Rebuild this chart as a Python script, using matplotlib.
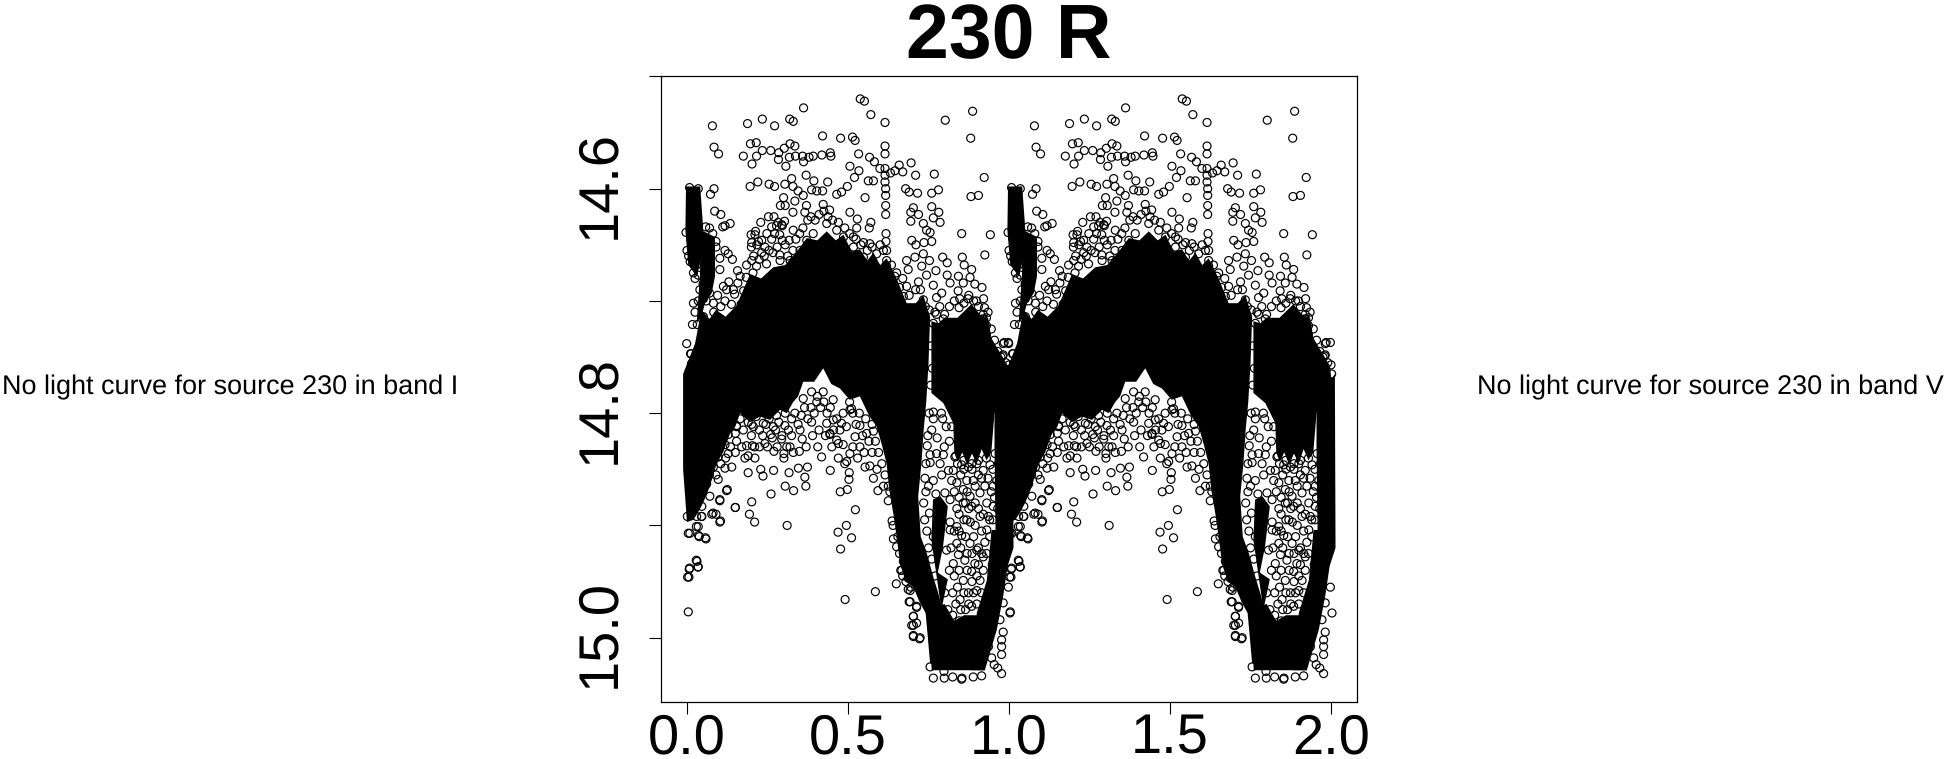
import matplotlib
matplotlib.use("Agg")
import matplotlib.pyplot as plt
from matplotlib.transforms import ScaledTranslation

plt.rcParams['font.family'] = ['Liberation Sans', 'DejaVu Sans']
plt.rcParams['text.hinting'] = 'no_hinting'
plt.rcParams['text.hinting_factor'] = 1

title_text = "230 R"
note_i = "No light curve for source 230 in band I"
note_v = "No light curve for source 230 in band V"
x_ticks = [0.0, 0.5, 1.0, 1.5, 2.0]
x_tick_labels = ["0.0", "0.5", "1.0", "1.5", "2.0"]
y_ticks = [14.5, 14.6, 14.7, 14.8, 14.9, 15.0]
y_tick_labels = ["", "14.6", "", "14.8", "", "15.0"]
fold_offsets = [0, 1]

# individually readable observations (phase, magnitude), upper half
upper_points = [
(.079,14.544),(.084,14.563),(.098,14.569),(.188,14.542),(.234,14.538),(.272,14.544),(.319,14.538),(.330,14.540),
(.362,14.528),(.538,14.520),(.551,14.522),(.571,14.534),(.615,14.541),(.802,14.539),(.887,14.531),(.881,14.555),
(.421,14.553),(.477,14.555),(.514,14.554),(.522,14.557),(.615,14.562),(.615,14.569),(.533,14.569),(.175,14.571),
(.197,14.560),(.215,14.559),(.216,14.571),(.234,14.566),(.260,14.566),(.285,14.568),(.284,14.574),(.302,14.564),
(.320,14.560),(.335,14.562),(.318,14.572),(.337,14.571),(.359,14.571),(.362,14.576),(.379,14.572),(.392,14.571),
(.419,14.570),(.445,14.568),(.447,14.571),(.202,14.578),(.307,14.580),(.506,14.580),(.534,14.584),(.567,14.572),
(.582,14.576),(.599,14.582),(.615,14.582),(.632,14.586),(.646,14.584),(.659,14.579),(.670,14.585),(.696,14.577),
(.710,14.588),(.768,14.587),(.520,14.590),(.196,14.598),(.220,14.594),(.255,14.596),(.272,14.598),(.304,14.596),
(.325,14.591),(.329,14.598),(.370,14.588),(.394,14.593),(.437,14.594),(.345,14.602),(.387,14.601),(.403,14.602),
(.421,14.602),(.465,14.605),(.480,14.603),(.498,14.598),(.563,14.593),(.579,14.593),(.615,14.588),(.615,14.594),
(.617,14.600),(.617,14.606),(.617,14.615),(.617,14.623),(.553,14.608),(.679,14.600),(.690,14.603),(.716,14.604),
(.760,14.604),(.781,14.601),(.084,14.600),(.073,14.605),(.008,14.599),(.035,14.600),(.086,14.620),(.105,14.623),
(.134,14.631),(.111,14.634),(.118,14.633),(.058,14.634),(-.003,14.639),(.300,14.608),(.290,14.615),(.305,14.615),
(.335,14.611),(.361,14.606),(.329,14.621),(.366,14.621),(.371,14.615),(.423,14.614),(.443,14.619),(.506,14.621),
(.529,14.627),(.703,14.617),(.695,14.621),(.719,14.623),(.760,14.616),(.782,14.621),(.695,14.629),(.571,14.630),
(.566,14.635),(.853,14.640),(.882,14.607),(.905,14.606),(.229,14.630),(.253,14.625),(.270,14.625),(.303,14.629),
(.283,14.630),(.330,14.637),(.296,14.646),(.317,14.646),(.199,14.641),(.213,14.638),(.201,14.648),(.548,14.648),
(.568,14.649),(.517,14.643),(.527,14.635),(.698,14.646),(.711,14.650),(.736,14.648),(.760,14.647),(.755,14.639),
(.734,14.631),(.744,14.637),(.786,14.630),(.765,14.626),(.794,14.661),(.808,14.666),(.773,14.673),(.808,14.677),
(.817,14.684),(.855,14.661),(.861,14.668),(.884,14.672),(.843,14.678),(.879,14.679),(.858,14.684),(.894,14.685),
(.682,14.664),(.708,14.661),(.734,14.658),(.753,14.664),(.729,14.669),(.687,14.672),(.744,14.677),(.719,14.683),
(.765,14.686),(.791,14.693),(.775,14.697),(.770,14.710),(.796,14.716),(.682,14.687),(.618,14.640),(.618,14.647),
(.620,14.655),(.620,14.664),(.020,14.702),(.017,14.721),(.032,14.721),(-.001,14.738),(.011,14.747),(.014,14.756),
(.118,14.655),(.128,14.658),(.141,14.663),(.102,14.662),(.102,14.672),(.025,14.680),(.035,14.677),(.090,14.647),
(.157,14.673),(.051,14.698),(.113,14.687),(.144,14.690),(.185,14.668),(.201,14.664),(.211,14.641),(.222,14.647),
(.242,14.652),(.263,14.634),(.278,14.633),(.294,14.632),(.232,14.657),(.267,14.657),(.288,14.659),(.923,14.590),
(.942,14.641),(.925,14.659),(.985,14.737),(.980,14.749),(.916,14.688),(.921,14.698),(.842,14.691),(.847,14.698),
(.873,14.698),(.899,14.700),(.924,14.706),(.919,14.716),(.930,14.715),(.904,14.723),(.929,14.730),(.945,14.745),
(.976,14.759),(1.002,14.765),(.995,14.772),
(.165,14.678),(.123,14.690),(.082,14.702),(.051,14.714),(.216,14.669),(.247,14.667),(.289,14.664),(.320,14.664),
(.351,14.655),(.372,14.646),(.392,14.640),(.434,14.631),(.465,14.637),(.486,14.643),(.517,14.652),(.548,14.661),
(.589,14.658),(.620,14.669),(.651,14.675),(.672,14.696),(.693,14.707),(.734,14.699),(.765,14.720),
(.982,14.738),(.998,14.737),(.982,14.748),(.013,14.747),(.946,14.745),(.982,14.759),(.019,14.756),
]

# rings crowding the top edge of the dense mass
upper_edge_points = [
(.060,14.700),(.070,14.693),(.083,14.710),(.095,14.695),(.105,14.705),(.118,14.700),(.130,14.683),(.138,14.703),
(.148,14.694),(.158,14.684),(.168,14.703),(.176,14.691),(.184,14.679),(.192,14.698),(.205,14.675),(.200,14.652),
(.207,14.660),(.217,14.650),(.224,14.663),(.232,14.646),(.240,14.660),(.248,14.640),(.255,14.655),(.263,14.645),
(.272,14.640),(.280,14.652),(.288,14.641),(.296,14.633),(.305,14.650),(.313,14.660),(.329,14.655),(.338,14.645),
(.350,14.640),(.360,14.635),(.375,14.628),(.385,14.625),(.398,14.628),(.410,14.623),(.425,14.620),(.438,14.625),
(.452,14.628),(.470,14.630),(.490,14.635),(.505,14.640),(.525,14.645),(.540,14.650),(.560,14.655),(.575,14.652),
(.600,14.650),(.610,14.655),(.635,14.668),(.645,14.678),(.660,14.688),(.670,14.680),(.690,14.695),(.710,14.690),
(.725,14.690),(.740,14.705),(.752,14.708),(.775,14.712),(.785,14.705),(.800,14.712),(.815,14.705),(.830,14.700),
(.845,14.706),(.860,14.702),(.875,14.695),(.890,14.700),(.905,14.705),(.920,14.712),(.935,14.710),(.930,14.722),
(.945,14.725),(.955,14.735),(.965,14.745),(.975,14.750),(.990,14.755),(1.000,14.757),
(.010,14.665),(.020,14.675),(.012,14.645),(.000,14.655),(.005,14.660),(.030,14.668),(.045,14.660),(.050,14.650),
(.070,14.635),(.080,14.640),(.090,14.652),(.040,14.690),(.050,14.685),(.035,14.700),(.025,14.710),(.060,14.725),
(.010,14.775),
]

# individually readable observations (phase, magnitude), lower half
lower_points = [
(.004,14.977),(.002,14.946),(.007,14.939),(.031,14.932),(.035,14.937),(.059,14.912),(.038,14.910),(.004,14.907),
(.035,14.901),(.102,14.897),(.077,14.890),(.090,14.890),(.046,14.892),(.210,14.897),(.194,14.890),(.201,14.879),
(.150,14.884),(.102,14.878),(.123,14.869),(.097,14.859),(.311,14.900),(.261,14.872),(.305,14.865),(.331,14.869),
(.369,14.865),(.236,14.856),(.190,14.853),(.317,14.853),(.269,14.851),(.346,14.849),(.374,14.848),(.366,14.857),
(.445,14.851),(.476,14.870),(.498,14.868),(.503,14.859),(.504,14.853),(.523,14.886),(.495,14.900),(.469,14.906),
(.511,14.911),(.477,14.921),(.491,14.966),(.585,14.959),(.650,14.952),(.664,14.940),(.637,14.896),(.641,14.912),
(.625,14.878),(.593,14.869),(.579,14.858),(.553,14.848),(.568,14.847),(.496,14.843),(.506,14.836),(.211,14.840),
(.190,14.838),(.229,14.850),(.139,14.848),(.118,14.849),(.185,14.829),(.203,14.829),(.242,14.827),(.270,14.834),
(.301,14.836),(.301,14.840),(.349,14.834),(.320,14.830),(.294,14.823),(.358,14.823),(.260,14.819),(.406,14.830),
(.418,14.839),(.201,14.810),(.154,14.811),(.154,14.825),(.128,14.836),(.444,14.818),(.470,14.827),
(.703,14.981),(.698,14.989),(.703,14.999),(.724,15.000),(.713,14.973),(.690,14.968),(.687,14.957),(.693,14.945),
(.672,14.932),(.651,14.919),
(.765,15.036),(.798,15.030),(.825,15.035),(.853,15.037),(.889,15.035),(.755,15.026),(.801,15.023),(.798,15.003),
(.799,15.036),(.854,15.036),(.915,15.034),(.977,15.032),(.965,15.027),(.954,15.024),(.946,15.018),(.977,15.015),
(.977,15.008),(.977,15.002),(.936,15.008),(.982,14.995),(1.003,14.978),(.998,14.955),(.034,14.937),(.029,14.931),
(.008,14.938),(.006,14.946),(.057,14.911),(.036,14.909),(.029,14.901),(.045,14.892),(.081,14.889),(.104,14.896),
(.102,14.877),(.125,14.868),(.150,14.884),
(.185,14.799),(.206,14.812),(.237,14.809),(.268,14.812),(.304,14.811),(.351,14.815),(.387,14.808),(.434,14.809),
(.454,14.806),(.480,14.809),(.511,14.796),(.537,14.811),(.558,14.818),(.444,14.819),(.465,14.824),(.485,14.828),
(.522,14.821),(.537,14.830),(.579,14.816),(.361,14.787),(.387,14.781),(.423,14.781),(.403,14.790),(.454,14.788),
(.506,14.797),(.278,14.802),(.247,14.799),(.325,14.805),(.154,14.812),(.128,14.819),(.118,14.828),(.097,14.839),
(.082,14.848),(.061,14.863),(.071,14.874),(.046,14.883),(.030,14.892),(.009,14.907),(.001,14.892),
(.693,14.958),(.693,14.968),(.713,14.972),(.703,14.981),(.703,14.989),(.713,14.987),(.703,14.998),(.722,15.001),
(.667,14.940),(.687,14.947),(.982,14.969),(.972,14.984),
]

# rings crowding the bottom edge of the dense mass
lower_edge_points = [
(.100,14.825),(.110,14.815),(.125,14.808),(.140,14.800),(.150,14.818),(.165,14.805),(.175,14.815),(.190,14.808),
(.200,14.820),(.215,14.803),(.225,14.815),(.235,14.820),(.245,14.810),(.255,14.805),(.265,14.822),(.275,14.815),
(.285,14.808),(.295,14.820),(.305,14.800),(.315,14.815),(.325,14.820),(.335,14.800),(.345,14.810),(.355,14.802),
(.365,14.795),(.375,14.805),(.385,14.795),(.395,14.800),(.405,14.785),(.415,14.795),(.425,14.790),(.435,14.800),
(.445,14.795),(.455,14.815),(.465,14.805),(.475,14.815),(.485,14.800),(.495,14.812),(.505,14.790),(.515,14.800),
(.525,14.810),(.535,14.800),(.545,14.820),(.555,14.805),(.565,14.825),(.575,14.810),(.585,14.825),(.595,14.835),
(.605,14.845),(.615,14.855),(.625,14.865),(.630,14.870),(.640,14.900),(.655,14.910),(.660,14.925),(.670,14.945),
(.680,14.950),(.695,14.955),(.070,14.855),(.080,14.842),(.090,14.855),(.105,14.845),(.120,14.840),(.135,14.830),
(.150,14.835),(.170,14.830),(.180,14.840),(.210,14.830),(.225,14.830),(.250,14.830),(.280,14.830),(.310,14.830),
(.330,14.835),(.370,14.830),(.390,14.820),(.410,14.815),(.430,14.820),(.450,14.830),(.470,14.840),(.490,14.845),
(.515,14.830),(.530,14.840),(.550,14.835),(.575,14.835),(.590,14.850),(.610,14.865),
(.735,14.880),(.742,14.870),(.738,14.895),(.745,14.905),(.750,14.920),(.760,14.930),(.770,14.945),(.742,14.845),
(.748,14.820),(.752,14.800),(.757,14.775),(.762,14.760),(.758,14.740),
(.950,14.850),(.962,14.860),(.950,14.895),(.958,14.910),(.965,14.885),(.948,14.935),(.950,14.960),(.935,14.975),
(.925,14.990),(.918,15.010),(.905,14.990),(.890,14.995),(.870,14.990),(.845,14.985),(.825,14.980),(.810,14.975),
(.885,14.845),(.860,14.842),(.905,14.842),(.835,14.838),(.930,14.840),(.815,14.825),(.805,14.812),(.790,14.800),
]

# observations in the gaps between the arms of the minimum
gap_points = [
(.765,14.799),(.765,14.805),(.794,14.805),(.822,14.812),(.760,14.815),(.777,14.822),(.746,14.829),(.799,14.830),
(.755,14.837),(.775,14.836),(.796,14.837),(.755,14.844),(.786,14.845),(.739,14.858),(.765,14.860),(.791,14.855),
(.750,14.865),(.773,14.872),(.801,14.871),(.817,14.877),(.838,14.885),(.753,14.889),(.817,14.897),(.832,14.839),
(.827,14.851),(.838,14.862),(.858,14.868),(.879,14.874),(.910,14.871),(.941,14.846),(.920,14.851),(.900,14.845),
(.858,14.880),(.884,14.883),(.931,14.880),(.951,14.883),(.853,14.846),(.874,14.848),(.838,14.901),(.817,14.904),
(.853,14.909),(.879,14.916),(.900,14.922),(.843,14.926),(.884,14.941),(.894,14.934),(.910,14.949),(.874,14.960),
(.910,14.892),(.869,14.895),(.931,14.904),(.838,14.916),(.863,14.931),(.920,14.928),(.900,14.958),(.858,14.949),
(.884,14.972),(.848,14.966),(.827,14.934),(.765,14.910),(.806,14.922),(.889,14.860),(.915,14.858),(.869,14.860),
(.957,14.836),(.967,14.845),(.951,14.865),(.936,14.892),(.822,14.860),(.812,14.851),
(.840,14.845),(.850,14.855),(.860,14.850),(.870,14.870),(.885,14.850),(.895,14.865),(.905,14.855),(.925,14.865),
(.935,14.858),(.945,14.870),(.955,14.875),(.830,14.870),(.845,14.875),(.865,14.880),(.875,14.885),(.895,14.880),
(.905,14.885),(.920,14.890),(.940,14.895),(.845,14.890),(.860,14.895),(.880,14.897),(.895,14.900),(.915,14.905),
(.925,14.915),(.940,14.910),(.830,14.905),(.845,14.905),(.865,14.910),(.890,14.910),(.905,14.920),(.915,14.925),
(.930,14.925),(.820,14.920),(.850,14.920),(.870,14.925),(.885,14.925),(.905,14.935),(.920,14.940),(.830,14.945),
(.845,14.940),(.870,14.940),(.885,14.950),(.900,14.945),(.815,14.940),(.825,14.960),(.840,14.955),(.860,14.960),
(.875,14.970),(.890,14.960),(.915,14.960),(.800,14.960),(.835,14.970),(.850,14.975),(.865,14.975),(.900,14.970),
]

# outlines of the fully overplotted regions, where single points cannot be told apart
mass_outline = [
(-.012,14.765),(.025,14.738),(.045,14.708),(.070,14.716),(.090,14.708),(.120,14.714),(.154,14.704),(.175,14.690),
(.196,14.676),(.230,14.680),(.268,14.670),(.305,14.668),(.341,14.656),(.372,14.644),(.405,14.646),(.434,14.638),
(.462,14.646),(.486,14.641),(.512,14.656),(.537,14.654),(.560,14.664),(.579,14.657),(.600,14.668),(.620,14.662),
(.651,14.680),(.682,14.702),(.710,14.702),(.734,14.695),(.755,14.714),(.750,14.756),(.743,14.790),(.735,14.815),
(.728,14.845),(.718,14.874),(.726,14.910),(.745,14.925),(.765,14.946),(.782,14.962),(.796,14.978),(.791,15.023),
(.755,15.023),(.748,15.000),(.741,14.978),(.722,14.968),(.703,14.955),(.680,14.950),(.662,14.935),(.652,14.912),
(.641,14.890),(.628,14.868),(.620,14.845),(.605,14.828),(.589,14.812),(.565,14.802),(.537,14.785),(.505,14.788),
(.475,14.778),(.448,14.774),(.423,14.760),(.395,14.772),(.361,14.772),(.345,14.785),(.330,14.790),(.310,14.800),
(.289,14.797),(.258,14.806),(.227,14.803),(.195,14.808),(.165,14.800),(.150,14.812),(.134,14.818),(.112,14.835),
(.092,14.845),(.070,14.866),(.050,14.880),(.035,14.888),(.020,14.895),(.000,14.897),(-.012,14.850),
]
spike_outline = [(-.003,14.598),(.041,14.598),(.050,14.634),(.047,14.660),(.030,14.678),(.004,14.668),(-.005,14.637)]
shoulder_outline = [(.045,14.637),(.087,14.643),(.087,14.678),(.077,14.693),(.056,14.702),(.045,14.714),(.030,14.720),(.040,14.678)]
dome_outline = [
(.759,14.718),(.780,14.720),(.800,14.715),(.840,14.715),(.883,14.703),(.910,14.712),(.935,14.715),(.945,14.733),
(.970,14.745),(.997,14.758),(1.007,14.788),(.955,14.800),(.945,14.835),(.930,14.842),(.915,14.832),(.900,14.845),
(.885,14.836),(.870,14.846),(.855,14.835),(.840,14.843),(.830,14.835),(.827,14.809),(.796,14.791),(.759,14.782),
]
column_outline = [(.955,14.790),(1.012,14.765),(1.014,14.920),(.997,14.935),(.975,14.945),(.960,14.940),(.957,14.880),(.955,14.830)]
right_arm_outline = [
(.946,14.904),(.972,14.904),(1.003,14.922),(.982,14.963),(.962,14.993),(.925,15.029),(.884,15.029),(.900,14.978),(.931,14.949),
]
base_outline = [(.750,14.980),(.775,14.972),(.800,14.970),(.830,14.985),(.860,14.980),(.900,14.980),(.925,15.029),(.760,15.029)]
inner_arm_outline = [(.764,14.877),(.787,14.874),(.810,14.883),(.795,14.919),(.779,14.942),(.810,14.948),(.790,14.975),(.759,14.913)]
solid_regions = [mass_outline, spike_outline, shoulder_outline, dome_outline,
                 column_outline, right_arm_outline, base_outline, inner_arm_outline]

W, H = 1952, 759
fig = plt.figure(figsize=(W / 100, H / 100), dpi=100)
ax = fig.add_axes([661 / W, 1 - 702 / H, 696 / W, 626 / H])

for offset in fold_offsets:
    for outline in solid_regions:
        ax.fill([p + offset for p, m in outline], [m for p, m in outline],
                color='black', lw=0, zorder=1)
    for group in (upper_points, upper_edge_points, lower_points, lower_edge_points, gap_points):
        ax.scatter([p + offset for p, m in group], [m for p, m in group],
                   s=33, facecolors='none', edgecolors='black', linewidths=0.85, zorder=2)

ax.set_xlim(-0.0807, 2.0807)
ax.set_ylim(15.0573, 14.4996)
ax.set_xticks(x_ticks)
ax.set_xticklabels(x_tick_labels, fontsize=40, va='baseline')
ax.set_yticks(y_ticks)
ax.set_yticklabels(y_tick_labels, fontsize=40, rotation=90, va='center')
ax.tick_params(axis='x', length=8.6, width=0.8, pad=28.5)
ax.tick_params(axis='y', length=8.6, width=0.8, pad=17)
for label in ax.get_yticklabels():
    label.set_transform(label.get_transform() + ScaledTranslation(0, 4 / 100, fig.dpi_scale_trans))
for spine in ax.spines.values():
    spine.set_linewidth(0.9)

fig.text(1009 / W, 1 - 58 / H, title_text, fontsize=55.5, fontweight='bold',
         ha='center', va='baseline')
fig.text(1.5 / W, 1 - 387 / H, note_i, fontsize=19.6, ha='left', va='center')
fig.text(1477 / W, 1 - 387 / H, note_v, fontsize=19.6, ha='left', va='center')

fig.savefig('out.png', dpi=100)
